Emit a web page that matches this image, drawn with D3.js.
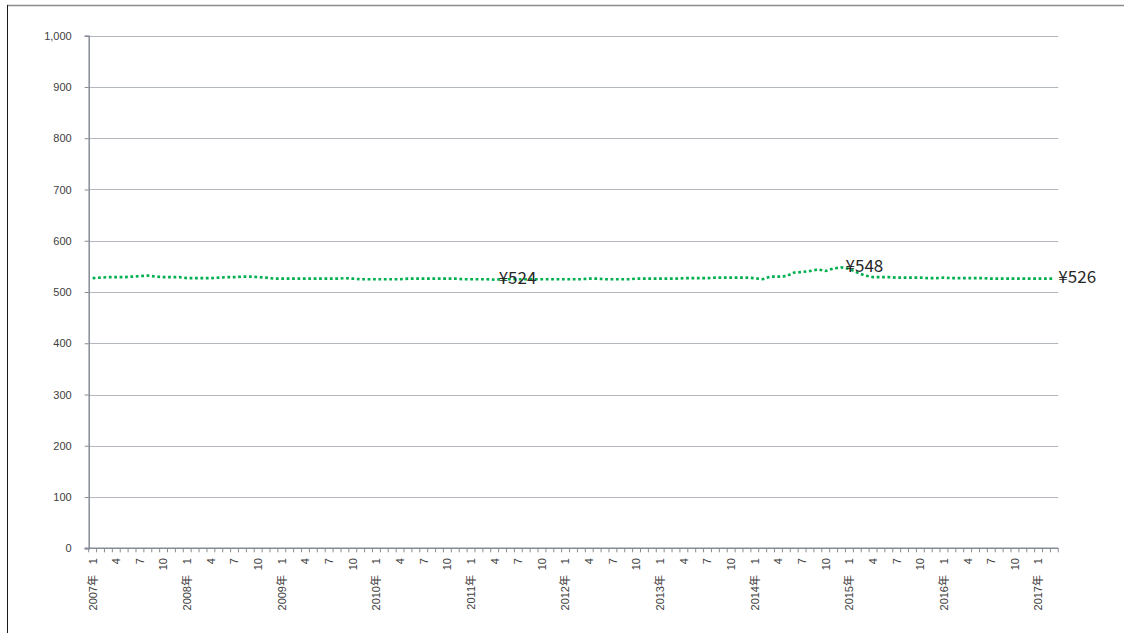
<!DOCTYPE html>
<html>
<head>
<meta charset="utf-8">
<script src="https://cdn.jsdelivr.net/npm/d3@7/dist/d3.min.js"></script>
<style>
  html, body { margin: 0; padding: 0; background: #fff; }
  svg { display: block; }
</style>
</head>
<body>
<svg id="chart" width="1124" height="633"></svg>
<script>
// ---- data ----
const years = ["2007","2008","2009","2010","2011","2012","2013","2014","2015","2016","2017"];
const yearLabels = ["2007年","2008年","2009年","2010年","2011年","2012年","2013年","2014年","2015年","2016年","2017年"];
const months = [1,2,3,4,5,6,7,8,9,10,11,12];
const monthTickLabels = ["1","4","7","10"];
const lastYearMonths = [1,2,3];
const values = [
  527,528,529,529,529,530,531,532,530,529,529,529,
  527,527,527,527,528,529,529,530,530,529,528,526,
  526,526,526,526,526,526,526,526,527,526,525,525,
  525,525,525,525,526,526,526,526,526,526,526,525,
  525,525,525,524,525,525,525,525,525,525,525,525,
  525,525,525,526,526,525,525,525,525,526,526,526,
  526,526,526,527,527,527,527,528,528,528,528,528,
  527,525,530,530,531,538,539,541,544,541,546,548,
  545,538,532,529,529,529,528,528,528,528,527,527,
  528,527,527,527,527,527,526,526,526,526,526,526,
  526,526,526
];
const yTicks = [0,100,200,300,400,500,600,700,800,900,1000];
const labelledPoints = [51, 95, 122];

// categories (year, month)
const categories = [];
years.forEach((yr, yi) => {
  const ms = (yr === "2017") ? lastYearMonths : months;
  ms.forEach(m => categories.push({year: yr, yearLabel: yearLabels[yi], month: m}));
});

// ---- layout ----
const svg = d3.select("#chart");
const plotLeft = 88.7, plotRight = 1058.3, plotTop = 35.7, plotBottom = 548.3;

const x = d3.scaleBand().domain(d3.range(categories.length)).range([plotLeft, plotRight]).paddingInner(0).paddingOuter(0);
const y = d3.scaleLinear().domain([0, 1000]).range([plotBottom, plotTop]);

// outer border (partially visible)
svg.append("line").attr("x1", 7).attr("x2", 1124).attr("y1", 5.5).attr("y2", 5.5)
  .attr("stroke", "#8c8c8c").attr("stroke-width", 1.5);
svg.append("line").attr("x1", 7.5).attr("x2", 7.5).attr("y1", 5).attr("y2", 633)
  .attr("stroke", "#1a1a1a").attr("stroke-width", 1);

// gridlines
svg.append("g").selectAll("line").data(yTicks.filter(d => d > 0)).join("line")
  .attr("x1", plotLeft).attr("x2", plotRight)
  .attr("y1", d => Math.round(y(d)) + 0.5).attr("y2", d => Math.round(y(d)) + 0.5)
  .attr("stroke", "#b3b7be").attr("stroke-width", 1);

// y axis
const yAxis = d3.axisLeft(y).tickValues(yTicks).tickFormat(d3.format(",")).tickSize(4).tickPadding(13);
const gy = svg.append("g").attr("transform", `translate(${plotLeft},0)`).call(yAxis);
gy.select(".domain").attr("stroke", "#868b95").attr("stroke-width", 1.5);
gy.selectAll(".tick line").attr("stroke", "#868b95");
gy.selectAll(".tick text").attr("font-family", "'Liberation Sans', Arial, sans-serif")
  .attr("font-size", 11).attr("fill", "#404040");

// x axis line
svg.append("line").attr("x1", plotLeft - 4).attr("x2", plotRight).attr("y1", plotBottom).attr("y2", plotBottom)
  .attr("stroke", "#868b95").attr("stroke-width", 1.5);

// x tick marks at category boundaries
const boundaries = d3.range(categories.length + 1);
const bx = i => (i < categories.length ? x(i) : x(categories.length - 1) + x.bandwidth());
svg.append("g").selectAll("line").data(boundaries).join("line")
  .attr("x1", bx).attr("x2", bx)
  .attr("y1", plotBottom).attr("y2", plotBottom + 4)
  .attr("stroke", "#868b95").attr("stroke-width", 1);

// month labels and year labels
const gm = svg.append("g").attr("font-family", "'Liberation Sans', Arial, sans-serif")
  .attr("font-size", 11).attr("fill", "#404040");
categories.forEach((c, i) => {
  const lbl = String(c.month);
  const cx = x(i) + x.bandwidth() / 2;
  if (monthTickLabels.includes(lbl)) {
    gm.append("text")
      .attr("transform", `translate(${cx},558) rotate(-90)`)
      .attr("text-anchor", "end").attr("dy", "0.35em")
      .text(lbl);
  }
  if (c.month === 1) {
    gm.append("text")
      .attr("transform", `translate(${cx},575) rotate(-90)`)
      .attr("text-anchor", "end").attr("dy", "0.35em")
      .attr("font-family", "'Liberation Sans', 'Noto Sans CJK JP', sans-serif")
      .text(c.yearLabel);
  }
});

// line
const line = d3.line()
  .x((d, i) => x(i) + x.bandwidth() / 2)
  .y(d => y(d));
svg.append("path").datum(values)
  .attr("d", line)
  .attr("fill", "none")
  .attr("stroke", "#00b050")
  .attr("stroke-width", 2.6)
  .attr("stroke-dasharray", "2.8,2.6");

// data labels
svg.append("g").selectAll("text").data(labelledPoints).join("text")
  .attr("x", i => x(i) + x.bandwidth() / 2 + 4)
  .attr("y", i => y(values[i]) - 1.5)
  .attr("dy", "0.35em")
  .attr("font-family", "'Noto Sans CJK JP', 'Noto Sans', sans-serif")
  .attr("font-size", 17)
  .attr("fill", "#262626")
  .text(i => "¥" + values[i]);
</script>
</body>
</html>
